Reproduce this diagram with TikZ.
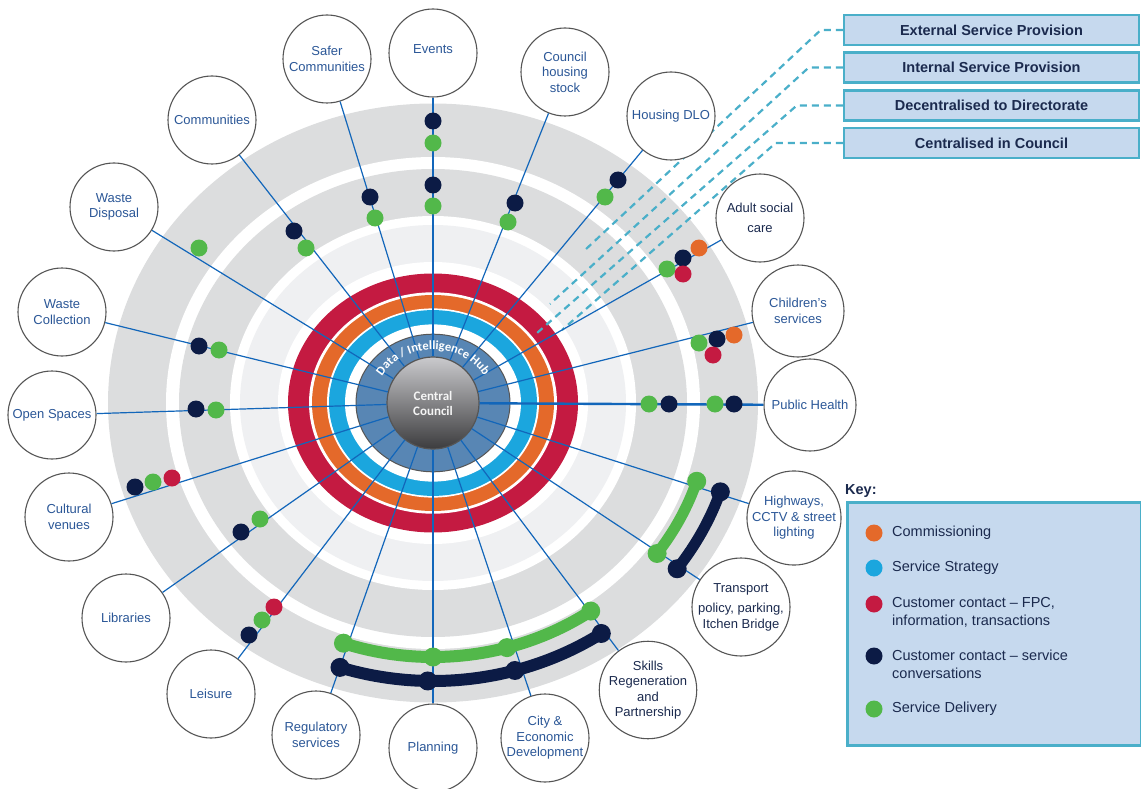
\documentclass[tikz,border=0pt]{standalone}
\usepackage{fontspec}
\setmainfont{Liberation Sans}
\newfontfamily\calfont{Carlito}
\usetikzlibrary{calc,decorations.text}

\definecolor{bandgrey}{HTML}{DCDDDE}
\definecolor{palegrey}{HTML}{EFF0F2}
\definecolor{ringred}{HTML}{C41A41}
\definecolor{ringorange}{HTML}{E4692A}
\definecolor{ringblue}{HTML}{1BA6DE}
\definecolor{hubblue}{HTML}{5886B4}
\definecolor{dotnavy}{HTML}{0C1B45}
\definecolor{dotgreen}{HTML}{52B84A}
\definecolor{spokeblue}{HTML}{1266BA}
\definecolor{labblue}{HTML}{2B5797}
\definecolor{labnavy}{HTML}{1B2A4E}
\definecolor{edgegrey}{HTML}{555555}
\definecolor{keyteal}{HTML}{4AAFC9}
\definecolor{keyfill}{HTML}{C6D9EE}
\definecolor{cctop}{HTML}{CACACD}
\definecolor{ccbot}{HTML}{3C3C3E}

\newcommand\labsize{\fontsize{13}{15.5}\selectfont}
\newcommand\keysize{\fontsize{14.5}{18}\selectfont}
\newcommand\hubfont{\calfont\bfseries\fontsize{12.5}{15}\selectfont}

\tikzstyle{svc}=[circle, draw=edgegrey, line width=1.1pt, fill=white, minimum size=88pt, inner sep=0pt, align=center, text=labblue, font=\labsize]
\tikzstyle{spoke}=[spokeblue, line width=1.2pt]
\tikzstyle{mainspoke}=[spokeblue, line width=2.4pt]
\tikzstyle{provbox}=[draw=keyteal, fill=keyfill, line width=2.5pt, minimum width=295pt, minimum height=30pt, inner sep=0pt, text=labnavy, font=\bfseries\keysize]
\tikzstyle{leader}=[keyteal, line width=2.2pt, dash pattern=on 7pt off 5pt]
\tikzstyle{keytext}=[anchor=west, align=left, inner sep=0pt, text=labnavy, font=\keysize]
\tikzstyle{band}=[line width=11pt, line cap=round]

\begin{document}
\begin{tikzpicture}[x=1pt, y=-1pt]
\useasboundingbox (0,0) rectangle (1141,789);
% Rings
    \fill[bandgrey] (433,403) ellipse [x radius=325, y radius=299.5];
    \fill[white] (433,403) ellipse [x radius=267, y radius=246];
    \fill[bandgrey] (433,403) ellipse [x radius=254, y radius=234];
    \fill[white] (433,403) ellipse [x radius=203, y radius=187];
    \fill[palegrey] (433,403) ellipse [x radius=193, y radius=178];
    \fill[white] (433,403) ellipse [x radius=155, y radius=141];
    \fill[ringred] (433,403) ellipse [x radius=145, y radius=129.5];
    \fill[white] (433,403) ellipse [x radius=124, y radius=110.7];
    \fill[ringorange] (433,403) ellipse [x radius=121, y radius=108];
    \fill[white] (433,403) ellipse [x radius=106, y radius=94.6];
    \fill[ringblue] (433,403) ellipse [x radius=104, y radius=92.9];
    \fill[white] (433,403) ellipse [x radius=88, y radius=78.6];
    \filldraw[fill=hubblue, draw=edgegrey, line width=1pt] (433,403) ellipse [x radius=77, y radius=68.8];
% Provision boxes and leaders
    \node[provbox] (ext) at (991.5,30) {External Service Provision};
    \node[provbox] (int) at (991.5,67.5) {Internal Service Provision};
    \node[provbox] (dec) at (991.5,105.5) {Decentralised to Directorate};
    \node[provbox] (cen) at (991.5,143) {Centralised in Council};
    \coordinate (extend) at (585,250);
    \coordinate (intend) at (550,304);
    \coordinate (decend) at (537,333);
    \coordinate (cenend) at (562,330);
    \draw[leader] (ext.west) -- ++(-22,0) -- (extend);
    \draw[leader] (int.west) -- ++(-34,0) -- (intend);
    \draw[leader] (dec.west) -- ++(-46,0) -- (decend);
    \draw[leader] (cen.west) -- ++(-67,0) -- (cenend);
% Services
    \node[svc] (events) at (433,53) {Events\\[-7.5pt]};
    \node[svc] (safer) at (327,59) {Safer\\Communities};
    \node[svc] (council) at (565,72) {Council\\housing\\stock};
    \node[svc] (dlo) at (671,116) {Housing DLO};
    \node[svc, text=labnavy] (adult) at (760,218) {Adult social\\[4.5pt]care};
    \node[svc, minimum size=92pt] (children) at (798,311) {Children’s\\services};
    \node[svc, minimum size=92pt] (health) at (810,405) {\\[-6pt]Public Health};
    \node[svc] (highways) at (794,518) {Highways,\\CCTV \& street\\lighting};
    \node[svc, text=labnavy] (transport) at (741,607) {Transport\\[5pt]policy, parking,\\Itchen Bridge};
    \node[svc, minimum size=90pt, text=labnavy] (skills) at (648,690) {Skills\\Regeneration\\and\\Partnership};
    \node[svc] (city) at (545,738) {City \&\\Economic\\Development};
    \node[svc] (planning) at (433,748) {\\[-6pt]Planning};
    \node[svc] (regulatory) at (316,735) {Regulatory\\services};
    \node[svc] (leisure) at (211,694) {Leisure};
    \node[svc] (libraries) at (126,618) {Libraries};
    \node[svc] (cultural) at (69,517) {Cultural\\venues};
    \node[svc] (open) at (52,415) {Open Spaces};
    \node[svc] (wastecol) at (62,312) {Waste\\Collection};
    \node[svc] (wastedisp) at (114,207) {Waste\\Disposal};
    \node[svc] (communities) at (212,120) {Communities};
% Centre
    \node[circle, minimum size=92pt, inner sep=0pt, draw=edgegrey, line width=1.2pt, top color=cctop, bottom color=ccbot, text=white!92!gray, font=\calfont\bfseries\fontsize{13}{15}\selectfont, align=center] (cc) at (433,403) {Central\\Council};
% Spokes
    \foreach \n in {safer, council, dlo, adult, children, highways, transport, skills, city, regulatory, leisure, libraries, cultural, open, wastecol, wastedisp, communities}
        \draw[spoke] (cc) -- (\n);
    \foreach \n in {events, health, planning}
        \draw[mainspoke] (cc) -- (\n);
    \path[decorate, decoration={text along path, text={|\hubfont|Data / Intelligence Hub}, text color=white, text align=center}]
        ($(433,403)+(188:59 and 53.5)$) arc[start angle=188, end angle=352, x radius=59, y radius=53.5];
% Dots on spokes
    \foreach \c/\x/\y in {dotnavy/433/121, dotgreen/433/143, dotnavy/433/185, dotgreen/433/206,
        dotnavy/370/197, dotgreen/375/218, dotnavy/515/203, dotgreen/508/222,
        dotnavy/294/231, dotgreen/306/248, dotgreen/199/248,
        dotnavy/618/180, dotgreen/605/197,
        ringorange/699/248, dotnavy/683/258, dotgreen/667/269, ringred/683/274,
        ringorange/734/335, dotnavy/717/339, dotgreen/699/343, ringred/713/355,
        dotgreen/649/404, dotnavy/669/404, dotgreen/715/404, dotnavy/734/404,
        dotnavy/199/346, dotgreen/219/350, dotnavy/196/409, dotgreen/216/410,
        dotnavy/135/487, dotgreen/153/482, ringred/172/478,
        dotnavy/241/532, dotgreen/260/519,
        ringred/274/607, dotgreen/262/620, dotnavy/249/635}
        \fill[\c] (\x,\y) circle (8.5);
% Shared delivery bands
    \draw[band, dotgreen] ($(433,403)+(17.8:277 and 256)$) arc[start angle=17.8, end angle=36, x radius=277, y radius=256];
    \draw[band, dotnavy] ($(433,403)+(18.5:303 and 280)$) arc[start angle=18.5, end angle=36.3, x radius=303, y radius=280];
    \foreach \a in {17.8, 36} \fill[dotgreen] ($(433,403)+(\a:277 and 256)$) circle (9.5);
    \foreach \a in {18.5, 36.3} \fill[dotnavy] ($(433,403)+(\a:303 and 280)$) circle (9.5);
    \draw[band, line width=12pt, dotgreen] ($(433,403)+(55:275 and 254)$) arc[start angle=55, end angle=109, x radius=275, y radius=254];
    \draw[band, line width=12pt, dotnavy] ($(433,403)+(56:301 and 278)$) arc[start angle=56, end angle=108, x radius=301, y radius=278];
    \foreach \a in {55, 74.4, 90, 109} \fill[dotgreen] ($(433,403)+(\a:275 and 254)$) circle (9.5);
    \foreach \a in {56, 74.2, 91, 108} \fill[dotnavy] ($(433,403)+(\a:301 and 278)$) circle (9.5);
% Key
    \node[anchor=north west, draw=keyteal, fill=keyfill, line width=2.5pt, minimum width=294pt, minimum height=243pt, inner sep=0pt] (key) at (846,501) {};
    \node[anchor=base west, inner sep=0pt, text=labnavy, font=\bfseries\keysize] (keytitle) at (845,494) {Key:};
    \foreach \c/\y in {ringorange/533, ringblue/568, ringred/604, dotnavy/656, dotgreen/709}
        \fill[\c] (874,\y) circle (8.5);
    \node[keytext] (kcomm) at (892,533) {Commissioning};
    \node[keytext] (kstrat) at (892,568) {Service Strategy};
    \node[keytext] (kfpc) at (892,612) {Customer contact – FPC,\\information, transactions};
    \node[keytext] (kconv) at (892,664.5) {Customer contact – service\\conversations};
    \node[keytext] (kdel) at (892,709) {Service Delivery};
\end{tikzpicture}
\end{document}
